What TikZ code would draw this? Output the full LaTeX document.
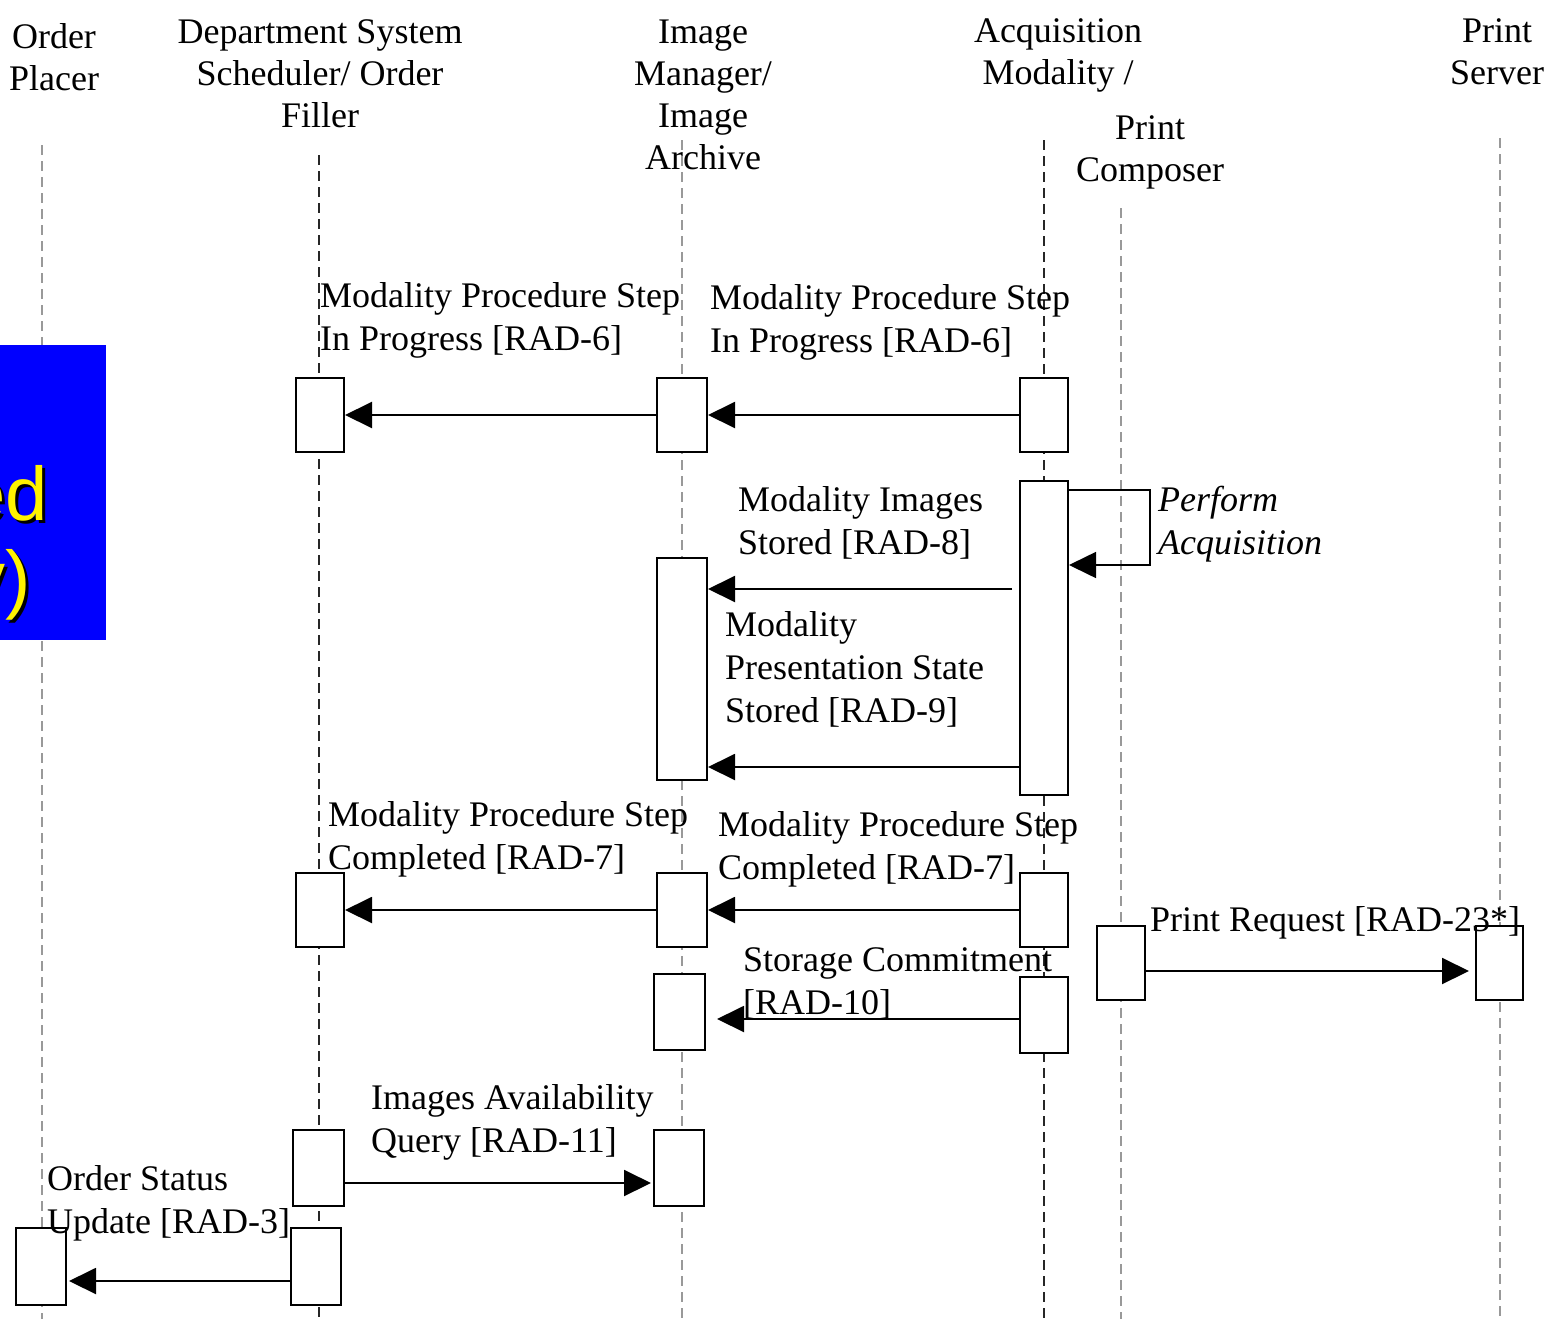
\documentclass[tikz,border=0pt]{standalone}
\usepackage{fontspec}
\setmainfont{Liberation Serif}
\newfontfamily\blueboxfont{Liberation Sans}
\usetikzlibrary{arrows.meta}
\tikzset{
  lifeline/.style={line width=1.8pt, dash pattern=on 10pt off 6pt, draw=gray!80},
  lifelinedark/.style={line width=1.8pt, dash pattern=on 10pt off 6pt, draw=black!85},
  act/.style={draw=black, line width=2pt, fill=white, inner sep=0pt, minimum width=48pt},
  msg/.style={line width=2pt, -{Triangle[length=27pt,width=26pt]}},
  lbl/.style={font=\fontsize{36}{43}\selectfont, inner sep=0pt, align=left, anchor=base west},
  hdr/.style={font=\fontsize{36}{42}\selectfont, inner sep=0pt, align=center, anchor=base},
  bluetxt/.style={font=\blueboxfont\fontsize{76}{85}\selectfont, inner sep=0pt, anchor=base east}
}
\begin{document}
\begin{tikzpicture}[x=1pt,y=-1pt]
\useasboundingbox (0,0) rectangle (1549,1319);
% headers (anchor = baseline of last line)
\node[hdr] (hOP) at (54,91) {Order\\Placer};
\node[hdr] (hDSS) at (320,128) {Department System\\Scheduler/ Order\\Filler};
\node[hdr] (hIM) at (703,169) {Image\\Manager/\\Image\\Archive};
\node[hdr] (hAM) at (1058,85) {Acquisition\\Modality /};
\node[hdr] (hPC) at (1150,181) {Print\\Composer};
\node[hdr] (hPS) at (1497,85) {Print\\Server};
% lifelines
\coordinate (top1) at (42,145);   \coordinate (bot1) at (42,1319);
\coordinate (top2) at (319,155);  \coordinate (bot2) at (319,1319);
\coordinate (top3) at (682,140);  \coordinate (bot3) at (682,1319);
\coordinate (top4) at (1044,140); \coordinate (bot4) at (1044,1319);
\coordinate (top5) at (1121,208); \coordinate (bot5) at (1121,1319);
\coordinate (top6) at (1500,138); \coordinate (bot6) at (1500,1319);
\draw[lifeline] (top1) -- (bot1);
\draw[lifelinedark] (top2) -- (bot2);
\draw[lifeline] (top3) -- (bot3);
\draw[lifelinedark] (top4) -- (bot4);
\draw[lifeline] (top5) -- (bot5);
\draw[lifeline] (top6) -- (bot6);
% activation boxes
\node[act, minimum height=74pt] (d1) at (320,415) {};
\node[act, minimum width=50pt, minimum height=74pt] (i1) at (682,415) {};
\node[act, minimum height=74pt] (a1) at (1044,415) {};
\node[act, minimum height=314pt] (a2) at (1044,638) {};
\node[act, minimum width=50pt, minimum height=222pt] (i2) at (682,669) {};
\node[act, minimum height=74pt] (d3) at (320,910) {};
\node[act, minimum width=50pt, minimum height=74pt] (i3) at (682,910) {};
\node[act, minimum height=74pt] (a3) at (1044,910) {};
\node[act, minimum width=51pt, minimum height=76pt] (i4) at (679.5,1012) {};
\node[act, minimum height=76pt] (a4) at (1044,1015) {};
\node[act, minimum height=74pt] (p1) at (1121,963) {};
\node[act, minimum width=47pt, minimum height=74pt] (s1) at (1499.5,963) {};
\node[act, minimum width=51pt, minimum height=76pt] (d5) at (318.5,1168) {};
\node[act, minimum width=50pt, minimum height=76pt] (i5) at (679,1168) {};
\node[act, minimum width=50pt, minimum height=77pt] (o6) at (41,1266.5) {};
\node[act, minimum width=50pt, minimum height=77pt] (d6) at (316,1266.5) {};
% messages
\draw[msg] (a1.west) -- (i1.east);
\draw[msg] (i1.west) -- (d1.east);
\coordinate (selfR1) at (1150,490);
\coordinate (selfR2) at (1150,565);
\draw[msg, line width=1.6pt] (a2.east |- selfR1) -- (selfR1) -- (selfR2) -- (a2.east |- selfR2);
\draw[msg] ([xshift=-7pt]a2.west |- 0,589) -- (i2.east |- 0,589);
\draw[msg] (a2.west |- 0,767) -- (i2.east |- 0,767);
\draw[msg] (a3.west) -- (i3.east);
\draw[msg] (i3.west) -- (d3.east);
\draw[msg] (a4.west |- 0,1019) -- ([xshift=11pt]i4.east |- 0,1019);
\draw[msg] (p1.east |- 0,971) -- ([xshift=-6pt]s1.west |- 0,971);
\draw[msg] (d5.east |- 0,1183) -- ([xshift=-2pt]i5.west |- 0,1183);
\draw[msg] (d6.west |- 0,1281) -- ([xshift=2pt]o6.east |- 0,1281);
% labels (anchor = baseline of last line)
\node[lbl] (l1) at (320,350) {Modality Procedure Step\\In Progress [RAD-6]};
\node[lbl] (l2) at (710,352) {Modality Procedure Step\\In Progress [RAD-6]};
\node[lbl] (l3) at (738,554) {Modality Images\\Stored [RAD-8]};
\node[lbl, font=\fontsize{36}{43}\selectfont\itshape] (l4) at (1158,554) {Perform\\Acquisition};
\node[lbl] (l5) at (725,722) {Modality\\Presentation State\\Stored [RAD-9]};
\node[lbl] (l6) at (328,869) {Modality Procedure Step\\Completed [RAD-7]};
\node[lbl] (l7) at (718,879) {Modality Procedure Step\\Completed [RAD-7]};
\node[lbl] (l8) at (743,1014) {Storage Commitment\\{[RAD-10]}};
\node[lbl] (l9) at (1150,931) {Print Request [RAD-23*]};
\node[lbl] (l10) at (371,1152) {Images Availability\\Query [RAD-11]};
\node[lbl] (l11) at (47,1233) {Order Status\\Update [RAD-3]};
% blue box
\fill[blue] (0,345) rectangle (106,640);
\begin{scope}
\clip (0,345) rectangle (106,640);
\node[bluetxt, text=black] (b1s) at (51,523) {ed};
\node[bluetxt, text=black] (b2s) at (34,607) {y)};
\node[bluetxt, text=yellow] (b1) at (48,520) {ed};
\node[bluetxt, text=yellow] (b2) at (31,604) {y)};
\end{scope}
\end{tikzpicture}
\end{document}
